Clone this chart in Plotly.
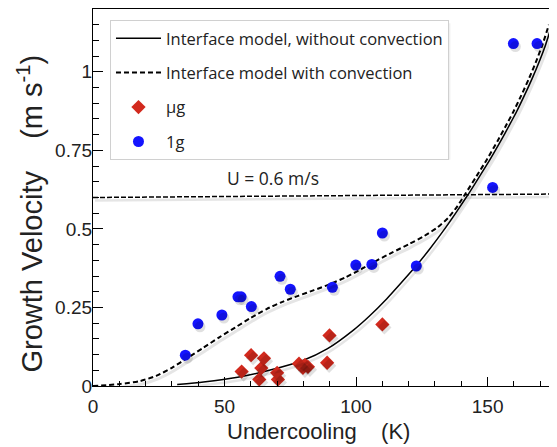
import plotly.graph_objects as go

# ---- data ----
# Interface model, without convection (solid)
solid_k = [32, 42, 55, 67, 80, 89, 99, 105, 111.7, 117, 123.1, 128, 133, 138, 143, 147, 151, 155, 158, 161,
           164, 167, 169.5, 172, 174.5]
solid_v = [0.005, 0.013, 0.028, 0.05, 0.082, 0.118, 0.178, 0.222, 0.278, 0.327, 0.385, 0.436, 0.492, 0.552,
           0.615, 0.668, 0.722, 0.78, 0.826, 0.873, 0.925, 0.98, 1.03, 1.085, 1.15]

# Interface model with convection (dashed)
dash_k = [0, 10, 18, 24, 30, 36, 42, 48, 54, 60, 66, 72, 78, 84, 90, 96, 102, 108, 114, 120, 126, 131, 135,
          138.5, 141.8, 145.8, 149.8, 153.8, 156.8, 159.8, 162.8, 165.8, 168.3, 170.8, 173.3]
dash_v = [0, 0.006, 0.016, 0.032, 0.058, 0.09, 0.122, 0.155, 0.186, 0.217, 0.245, 0.268, 0.287, 0.305, 0.324,
          0.346, 0.372, 0.4, 0.426, 0.451, 0.478, 0.505, 0.535, 0.572, 0.615, 0.668, 0.722, 0.78, 0.826, 0.873,
          0.925, 0.98, 1.03, 1.085, 1.15]

# U = 0.6 m/s line
u_k = [0, 176]
u_v = [0.600, 0.611]

# microgravity (red diamonds)
ug_k = [56.5, 60.1, 63.2, 64.0, 65.0, 70.0, 70.3, 78.3, 79.8, 80.6, 81.7, 89.0, 89.9, 110.0]
ug_v = [0.046, 0.098, 0.021, 0.057, 0.088, 0.042, 0.021, 0.071, 0.058, 0.067, 0.061, 0.074, 0.161, 0.196]

# 1g (blue circles)
g1_k = [35.1, 39.9, 49.0, 55.1, 56.3, 60.2, 71.1, 75.0, 91.0, 99.9, 106.0, 110.0, 122.9, 151.9, 159.8, 168.8]
g1_v = [0.098, 0.198, 0.226, 0.284, 0.284, 0.253, 0.349, 0.308, 0.314, 0.385, 0.387, 0.487, 0.382, 0.632, 1.09, 1.09]

x_range = [0, 176]
y_range = [0, 1.2]
x_ticks = [0, 50, 100, 150]
y_ticks = [0, 0.25, 0.5, 0.75, 1]
y_labels = ["0", "0.25", "0.5", "0.75", "1"]

# plot-area geometry (figure px); the page body adds an 8px offset
PLOT_W, PLOT_H = 463, 377
sh_dx, sh_dy = 2, 3  # drop-shadow offset in px
kx = (x_range[1] - x_range[0]) / PLOT_W
ky = (y_range[1] - y_range[0]) / PLOT_H

fig = go.Figure()

# drop shadows, drawn on offset twin axes
sh_line = "rgba(0,0,0,0.10)"
for xs, ys, w in [(u_k, u_v, 2.5), (dash_k, dash_v, 3), (solid_k, solid_v, 2.5)]:
    fig.add_trace(go.Scatter(x=xs, y=ys, xaxis="x2", yaxis="y2", mode="lines",
                             line=dict(color=sh_line, width=w, shape="spline", smoothing=0.6),
                             hoverinfo="skip", showlegend=False))
fig.add_trace(go.Scatter(x=ug_k, y=ug_v, xaxis="x2", yaxis="y2", mode="markers",
                         marker=dict(symbol="diamond", size=11, color="rgba(0,0,0,0.12)"),
                         hoverinfo="skip", showlegend=False))
fig.add_trace(go.Scatter(x=g1_k, y=g1_v, xaxis="x2", yaxis="y2", mode="markers",
                         marker=dict(symbol="circle", size=11, color="rgba(0,0,0,0.12)"),
                         hoverinfo="skip", showlegend=False))

fig.add_trace(go.Scatter(x=u_k, y=u_v, mode="lines", line=dict(color="black", width=1.5, dash="5px,2px"),
                         showlegend=False))
fig.add_trace(go.Scatter(x=solid_k, y=solid_v, mode="lines",
                         line=dict(color="black", width=1.5, shape="spline", smoothing=0.6),
                         name="Interface model, without convection", legendgroup="a"))
fig.add_trace(go.Scatter(x=dash_k, y=dash_v, mode="lines",
                         line=dict(color="black", width=2, dash="5px,3px", shape="spline", smoothing=0.6),
                         name="Interface model with convection", legendgroup="b"))
fig.add_trace(go.Scatter(x=ug_k, y=ug_v, mode="markers",
                         marker=dict(symbol="diamond", size=11, color="#d2291d"),
                         name="µg", legendgroup="c"))
fig.add_trace(go.Scatter(x=g1_k, y=g1_v, mode="markers",
                         marker=dict(symbol="circle", size=11, color="#1414ff"),
                         name="1g", legendgroup="d"))

fig.add_annotation(x=68.5, y=0.663, text="U = 0.6 m/s", showarrow=False,
                   font=dict(family="Open Sans", size=17.5, color="#222"))

# axis titles as annotations so they sit where the reference has them
fig.add_annotation(xref="paper", yref="paper", x=-0.136, y=0.4576, xanchor="center", yanchor="middle",
                   text="Growth Velocity\u00a0\u00a0\u00a0\u00a0(m s<sup>-1</sup>)", textangle=-90, showarrow=False,
                   font=dict(family="Liberation Sans, Arial", size=29, color="#222"))
fig.add_annotation(xref="paper", yref="paper", x=0.488, y=-0.122, xanchor="center", yanchor="middle",
                   text="Undercooling\u00a0\u00a0\u00a0\u00a0(K)", showarrow=False,
                   font=dict(family="Liberation Sans, Arial", size=22, color="#222"))

# legend drop shadow (soft, two layers)
fig.add_shape(type="rect", xref="paper", yref="paper", x0=0.045, x1=0.772, y0=0.600, y1=0.962,
              fillcolor="rgba(0,0,0,0.06)", line=dict(width=0), layer="above")
fig.add_shape(type="rect", xref="paper", yref="paper", x0=0.043, x1=0.768, y0=0.604, y1=0.965,
              fillcolor="rgba(0,0,0,0.07)", line=dict(width=0), layer="above")

tickfont = dict(family="Liberation Sans, Arial", size=19, color="#222")

fig.update_layout(
    width=549, height=439,
    margin=dict(l=85, r=1, t=1, b=61, autoexpand=False),
    paper_bgcolor="white", plot_bgcolor="white",
    legend=dict(x=0.0367, y=0.971, xanchor="left", yanchor="top",
                bgcolor="white", bordercolor="#d0d0d0", borderwidth=1,
                font=dict(family="Open Sans", size=16.5, color="#222"),
                tracegroupgap=10, itemwidth=45),
    xaxis=dict(range=x_range, tickvals=x_ticks, ticks="inside", ticklen=9, tickwidth=1,
               tickcolor="black", showline=True, linecolor="black", linewidth=1.3, mirror=True,
               showgrid=False, zeroline=False, tickfont=tickfont, ticklabelstandoff=3, automargin=False,
               minor=dict(dtick=10, ticks="inside", ticklen=5, tickcolor="black", showgrid=False)),
    yaxis=dict(range=y_range, tickvals=y_ticks, ticktext=y_labels, ticks="inside", ticklen=10, tickwidth=1,
               tickcolor="black", showline=True, linecolor="black", linewidth=1.3, mirror=True,
               showgrid=False, zeroline=False, tickfont=tickfont, ticklabelstandoff=-4, automargin=False,
               minor=dict(dtick=0.05, ticks="inside", ticklen=6, tickcolor="black", showgrid=False)),
    xaxis2=dict(overlaying="x", range=[x_range[0] - sh_dx * kx, x_range[1] - sh_dx * kx], visible=False),
    yaxis2=dict(overlaying="y", range=[y_range[0] + sh_dy * ky, y_range[1] + sh_dy * ky], visible=False),
)

fig.write_html("out.html")
